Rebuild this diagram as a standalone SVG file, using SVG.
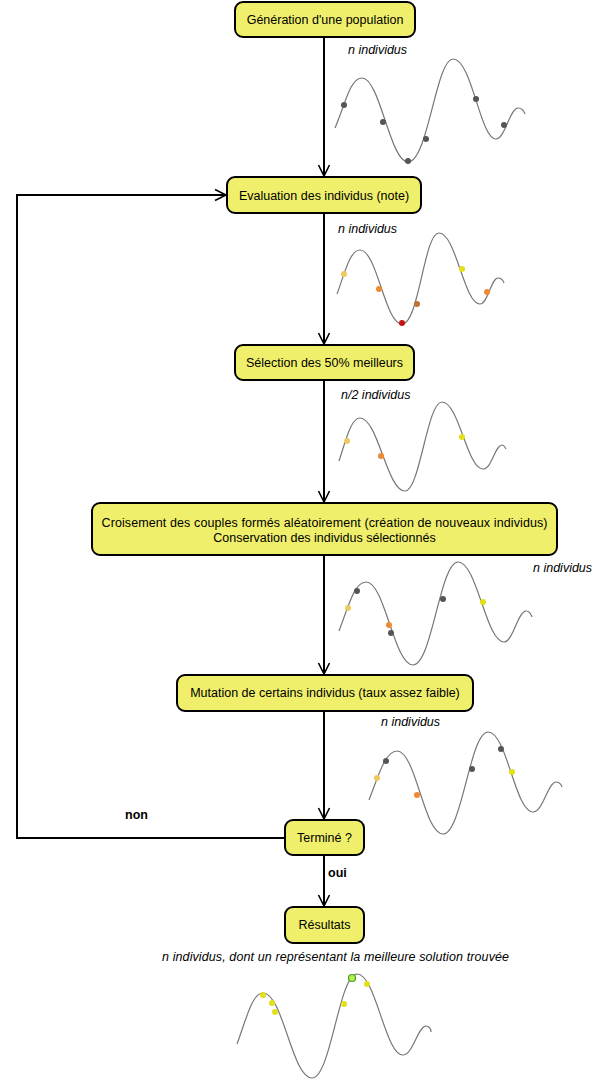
<svg xmlns="http://www.w3.org/2000/svg" width="594" height="1082" viewBox="0 0 594 1082">
<style>
.box{fill:#efef6c;stroke:#000;stroke-width:2}
.t{font-family:"Liberation Sans",Arial,sans-serif;font-size:12.5px;fill:#000;text-anchor:middle;dominant-baseline:central}
.lab{font-family:"Liberation Sans",Arial,sans-serif;font-size:12.5px;font-style:italic;fill:#000}
.b{font-family:"Liberation Sans",Arial,sans-serif;font-size:12.5px;font-weight:bold;fill:#000}
.edge{fill:none;stroke:#000;stroke-width:2}
.curve{fill:none;stroke:#777;stroke-width:1.2}
.g{fill:#555}
.ly{fill:#f0c860}
.or{fill:#f08a30}
.ye{fill:#e2e018}
</style>
<defs>
<marker id="arr" markerWidth="14" markerHeight="14" refX="0" refY="0" viewBox="-12 -7 14 14" orient="auto" markerUnits="userSpaceOnUse">
<path d="M-11,-5.5 L0,0 L-11,5.5" fill="none" stroke="#000" stroke-width="1.6"/>
</marker>
</defs>
<g id="connectors">
<path class="edge" d="M324,37 V176" marker-end="url(#arr)"/>
<path class="edge" d="M324,213 V344" marker-end="url(#arr)"/>
<path class="edge" d="M324,380 V502" marker-end="url(#arr)"/>
<path class="edge" d="M324,555 V674" marker-end="url(#arr)"/>
<path class="edge" d="M324,711 V819" marker-end="url(#arr)"/>
<path class="edge" d="M324,855 V906" marker-end="url(#arr)"/>
<path class="edge" d="M285,838 H17 V195 H226" marker-end="url(#arr)"/>
<text class="b" x="125" y="819">non</text>
<text class="b" x="328" y="877">oui</text>
</g>
<g id="node1"><rect class="box" x="235" y="2" width="180" height="35" rx="8"/><text class="t" x="325" y="19.5">Génération d'une population</text></g>
<g id="node2"><rect class="box" x="227" y="177" width="194" height="36" rx="8"/><text class="t" x="324" y="195.5">Evaluation des individus (note)</text></g>
<g id="node3"><rect class="box" x="235" y="345" width="179" height="35" rx="8"/><text class="t" x="324.5" y="363">Sélection des 50% meilleurs</text></g>
<g id="node4"><rect class="box" x="92" y="503" width="465" height="52" rx="8"/><text class="t" x="324.5" y="522.5" textLength="446" lengthAdjust="spacing">Croisement des couples formés aléatoirement (création de nouveaux individus)</text><text class="t" x="324.5" y="538">Conservation des individus sélectionnés</text></g>
<g id="node5"><rect class="box" x="177" y="675" width="296" height="36" rx="8"/><text class="t" x="325" y="693">Mutation de certains individus (taux assez faible)</text></g>
<g id="node6"><rect class="box" x="285" y="820" width="79" height="35" rx="8"/><text class="t" x="324.5" y="838">Terminé ?</text></g>
<g id="node7"><rect class="box" x="285" y="907" width="79" height="36" rx="8"/><text class="t" x="324.5" y="925">Résultats</text></g>

<g id="plot1">
<text class="lab" x="348" y="54">n individus</text>
<path class="curve" d="M335,128 C345,105 350,78 362,78 C380,78 390,162 408,162 C428,162 436,59 453,59 C472,59 480,139 496,139 C505,139 510,108 518,108 C522,108 524,111 525,114"/>
<circle class="g" cx="344" cy="105" r="3"/><circle class="g" cx="383" cy="122" r="3"/><circle class="g" cx="408" cy="161" r="3"/><circle class="g" cx="426" cy="139" r="3"/><circle class="g" cx="476" cy="99" r="3"/><circle class="g" cx="504" cy="125" r="3"/>
</g>
<g id="plot2">
<text class="lab" x="338" y="233">n individus</text>
<path class="curve" d="M337,294 C345,272 350,250 360,250 C377,250 385,324 402,324 C419,324 424,233 439,233 C456,233 464,304 480,304 C488,304 491,278 498,278 C501,278 503,280 504,283"/>
<circle class="ly" cx="344" cy="274" r="3"/><circle class="or" cx="379" cy="289" r="3"/><circle cx="402" cy="323" r="3" fill="#c81010"/><circle cx="417" cy="304" r="3" fill="#c07030"/><circle class="ye" cx="462" cy="269" r="3"/><circle class="or" cx="487" cy="292" r="3"/>
</g>
<g id="plot3">
<text class="lab" x="341" y="399">n/2 individus</text>
<path class="curve" d="M339,461 C346,440 351,418 360,418 C378,418 387,491 405,491 C420,491 427,402 442,402 C459,402 467,469 483,469 C492,469 495,445 502,445 C504,445 505,447 506,449"/>
<circle class="ly" cx="347" cy="441" r="3"/><circle class="or" cx="381" cy="456" r="3"/><circle class="ye" cx="462" cy="437" r="3"/>
</g>
<g id="plot4">
<text class="lab" x="533" y="572">n individus</text>
<path class="curve" d="M339,631 C348,608 354,582 366,582 C385,582 394,665 413,665 C432,665 440,562 458,562 C477,562 486,642 504,642 C513,642 518,611 526,611 C529,611 531,614 532,617"/>
<circle class="g" cx="357" cy="591" r="3"/><circle class="ly" cx="348" cy="608" r="3"/><circle class="or" cx="389" cy="625" r="3"/><circle class="g" cx="391" cy="633" r="3"/><circle class="g" cx="443" cy="599" r="3"/><circle class="ye" cx="483" cy="602" r="3"/>
</g>
<g id="plot5">
<text class="lab" x="381" y="726">n individus</text>
<path class="curve" d="M369,800 C378,777 385,751 397,751 C416,751 424,834 443,834 C462,834 470,732 488,732 C507,732 515,812 533,812 C543,812 548,782 556,782 C559,782 561,784 562,787"/>
<circle class="g" cx="386" cy="761" r="3"/><circle class="ly" cx="377" cy="778" r="3"/><circle class="or" cx="417" cy="795" r="3"/><circle class="g" cx="472" cy="769" r="3"/><circle class="g" cx="501" cy="749" r="3"/><circle class="ye" cx="512" cy="772" r="3"/>
</g>
<g id="plot7">
<text class="lab" x="162" y="961" textLength="347" lengthAdjust="spacing">n individus, dont un représentant la meilleure solution trouvée</text>
<path class="curve" d="M237,1044 C246,1020 252,993 263,993 C283,993 292,1078 312,1078 C331,1078 339,974 357,974 C376,974 385,1055 403,1055 C413,1055 418,1026 426,1026 C429,1026 431,1029 431,1032"/>
<circle class="ye" cx="263" cy="995" r="3"/><circle class="ye" cx="272" cy="1003" r="3"/><circle class="ye" cx="275" cy="1012" r="3"/><circle class="ye" cx="344" cy="1004" r="3"/><circle class="ye" cx="367" cy="984" r="3"/>
<circle cx="352" cy="978" r="3.5" fill="#b8f050" stroke="#40a020" stroke-width="1.2"/>
</g>
</svg>
